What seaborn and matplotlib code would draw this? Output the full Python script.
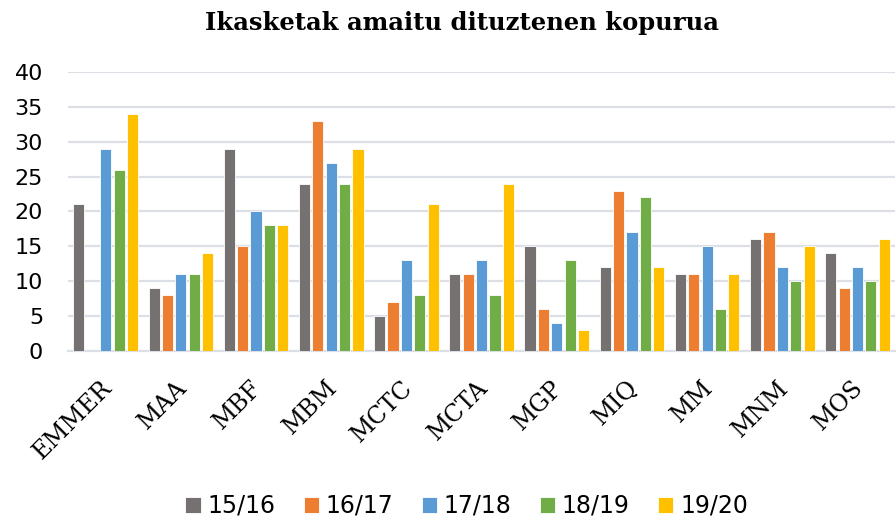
import numpy as np
import pandas as pd
import seaborn as sns
import matplotlib.pyplot as plt
from matplotlib.transforms import ScaledTranslation

# data
categories = ["EMMER", "MAA", "MBF", "MBM", "MCTC", "MCTA", "MGP", "MIQ", "MM", "MNM", "MOS"]
seasons = ["15/16", "16/17", "17/18", "18/19", "19/20"]
v_15_16 = [21, 9, 29, 24, 5, 11, 15, 12, 11, 16, 14]
v_16_17 = [np.nan, 8, 15, 33, 7, 11, 6, 23, 11, 17, 9]
v_17_18 = [29, 11, 20, 27, 13, 13, 4, 17, 15, 12, 12]
v_18_19 = [26, 11, 18, 24, 8, 8, 13, 22, 6, 10, 10]
v_19_20 = [34, 14, 18, 29, 21, 24, 3, 12, 11, 15, 16]
colors = ["#767171", "#ED7D31", "#5B9BD5", "#70AD47", "#FFC000"]

df = pd.DataFrame({"kat": categories, "15/16": v_15_16, "16/17": v_16_17,
                   "17/18": v_17_18, "18/19": v_18_19, "19/20": v_19_20})
long = df.melt(id_vars="kat", var_name="season", value_name="n")

sns.set_style("white")
plt.rcParams["text.color"] = "black"
plt.rcParams["xtick.color"] = "black"
plt.rcParams["ytick.color"] = "black"

fig = plt.figure(figsize=(8.96, 5.17), dpi=100)
ax = fig.add_axes([0.076, 0.321, 0.923, 0.540])

sns.barplot(data=long, x="kat", y="n", hue="season", hue_order=seasons,
            palette=colors, saturation=1, width=0.89, gap=0.17, edgecolor="white",
            linewidth=0.6, ax=ax, zorder=3)

ax.set_ylim(0, 40)
ax.set_xlim(-0.5, 10.5)
ax.set_yticks(range(0, 41, 5))
ax.yaxis.grid(True, color="#DCE0E6", linewidth=1.6, zorder=0)
ax.set_axisbelow(True)
for s in ["top", "right", "left"]:
    ax.spines[s].set_visible(False)
ax.spines["bottom"].set_color("#DCE0E6")
ax.spines["bottom"].set_linewidth(1.6)
ax.set_xlabel("")
ax.set_ylabel("")
ax.tick_params(axis="y", length=0, labelsize=16, pad=18)
ax.tick_params(axis="x", length=0, pad=18)
ax.set_xticks(range(len(categories)))
ax.set_xticklabels(categories, rotation=45, ha="right", rotation_mode="anchor",
                   fontfamily="DejaVu Serif", fontsize=17)
shift = ScaledTranslation(-4 / 72, 0, fig.dpi_scale_trans)
for lab in ax.get_xticklabels():
    lab.set_transform(lab.get_transform() + shift)

fig.text(0.515, 0.955, "Ikasketak amaitu dituztenen kopurua", ha="center", va="center",
         fontfamily="DejaVu Serif", fontweight="bold", fontsize=17.5)

ax.legend(loc="center", bbox_to_anchor=(0.482, -0.555), ncol=5, frameon=False,
          fontsize=17, handlelength=0.65, handleheight=0.65, handletextpad=0.28,
          columnspacing=1.2)

fig.savefig("out.png", dpi=100)
